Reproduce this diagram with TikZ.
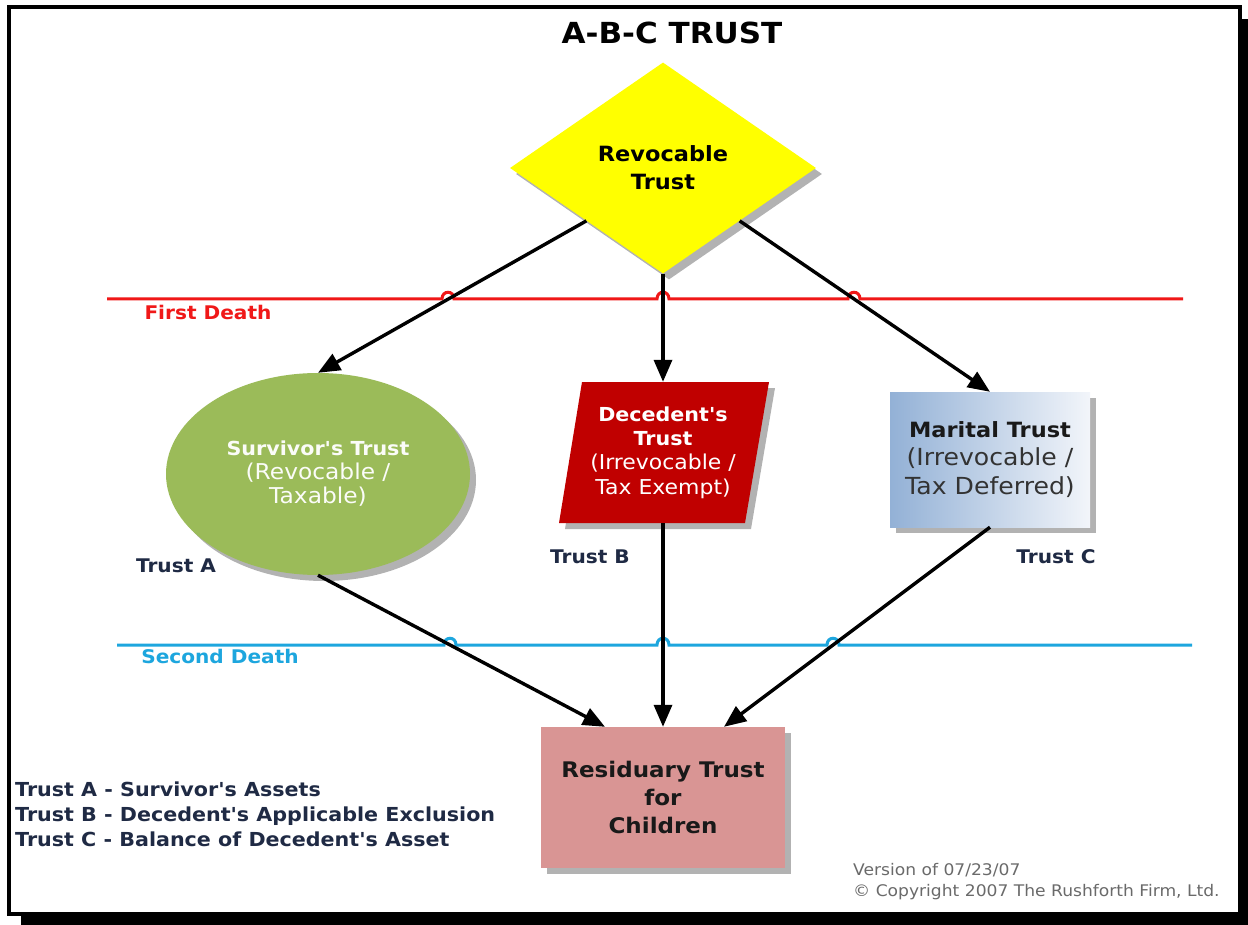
\documentclass[tikz,border=0pt]{standalone}
\usepackage{fontspec}
\setmainfont{DejaVu Sans}[FakeStretch=1.07,Ligatures=TeXOff]
\usetikzlibrary{shapes.geometric,arrows.meta,shadows}

\definecolor{revyellow}{HTML}{FFFF00}
\definecolor{survgreen}{HTML}{9BBB59}
\definecolor{decred}{HTML}{C00000}
\definecolor{marblueL}{HTML}{93B1D6}
\definecolor{marblueR}{HTML}{F2F5FA}
\definecolor{resipink}{HTML}{D99594}
\definecolor{deathred}{HTML}{F01818}
\definecolor{deathblue}{HTML}{1DA6DE}
\definecolor{lblnavy}{HTML}{1F2A44}
\definecolor{notegray}{HTML}{6A6A6A}

\tikzset{
  boxshadow/.style={drop shadow={shadow xshift=6pt,shadow yshift=-6pt,opacity=.3,fill=black}},
  link/.style={line width=3.4pt,-{Triangle[length=22pt,width=18pt]}},
  trustlbl/.style={font=\fontsize{18.8}{22}\selectfont\bfseries,text=lblnavy,inner sep=0pt},
  deathlbl/.style={font=\fontsize{18.8}{22}\selectfont\bfseries,inner sep=0pt},
}

\begin{document}
\begin{tikzpicture}[x=1pt,y=-1pt]
\useasboundingbox (0,0) rectangle (1248,925);

%Shape: Frame with shadow
\fill[black] (21,19) rectangle (1250,927);
\filldraw[fill=white,draw=black,line width=4pt] (9,7) rectangle (1240,914);

% Text Node
\node (title) at (672,33) [inner sep=0pt,font=\fontsize{29}{34}\selectfont\bfseries] {A-B-C TRUST};

%Straight Lines: First Death
\draw[deathred,line width=3pt] (107,299) -- (442,299) .. controls (442,290) and (454,290) .. (454,299)
  -- (657,299) .. controls (657,290) and (669,290) .. (669,299)
  -- (848,299) .. controls (848,290) and (860,290) .. (860,299) -- (1183,299);
%Straight Lines: Second Death
\draw[deathblue,line width=3pt] (117,645) -- (444,645) .. controls (444,636) and (456,636) .. (456,645)
  -- (657,645) .. controls (657,636) and (669,636) .. (669,645)
  -- (827,645) .. controls (827,636) and (839,636) .. (839,645) -- (1192,645);

% Text Node
\node (first) at (208,312) [deathlbl,text=deathred] {First Death};
% Text Node
\node (second) at (220,656) [deathlbl,text=deathblue] {Second Death};

%Shape: Diamond
\node (rev) at (663,168) [diamond,fill=revyellow,boxshadow,minimum width=306pt,minimum height=211pt,inner sep=0pt,align=center,font=\fontsize{21}{28}\selectfont\bfseries] {Revocable\\Trust};

%Shape: Ellipse
\node (surv) at (318,474) [ellipse,fill=survgreen,boxshadow,minimum width=304pt,minimum height=202pt,inner sep=0pt,align=center,text=white!96!survgreen,font=\fontsize{21.8}{24}\selectfont] {\textbf{\fontsize{19.3}{24}\selectfont Survivor's Trust}\\(Revocable /\\Taxable)};

%Shape: Parallelogram
\fill[decred,boxshadow] (582,382) -- (769,382) -- (745,523) -- (559,523) -- cycle;
\node (dec) at (663,452.5) [minimum width=186pt,minimum height=141pt,inner sep=0pt,align=center,text=white,font=\fontsize{20.5}{24.3}\selectfont] {\textbf{\fontsize{19.3}{24.3}\selectfont Decedent's}\\\textbf{\fontsize{19.3}{24.3}\selectfont Trust}\\(Irrevocable /\\Tax Exempt)};

%Shape: Rectangle
\node (mar) at (990,459.5) [rectangle,left color=marblueL,right color=marblueR,boxshadow,minimum width=200pt,minimum height=135pt,inner sep=0pt,align=center,text=black!80,font=\fontsize{23.5}{28.5}\selectfont] {\textbf{\fontsize{21}{28.5}\selectfont\color{black!90}Marital Trust}\\(Irrevocable /\\Tax Deferred)};

%Shape: Rectangle
\node (res) at (663,797.5) [rectangle,fill=resipink,boxshadow,minimum width=244pt,minimum height=141pt,inner sep=0pt,align=center,text=black!90,font=\fontsize{21.5}{28}\selectfont\bfseries] {Residuary Trust\\for\\Children};

% Text Node
\node (trA) at (176,566) [trustlbl] {Trust A};
% Text Node
\node (trB) at (590,557) [trustlbl] {Trust B};
% Text Node
\node (trC) at (1056,557) [trustlbl] {Trust C};

%Straight Lines
\draw[link] (rev.south west) -- (surv.north);
\draw[link] (rev.south) -- (dec.north);
\draw[link] (rev.south east) -- (mar.north);
\draw[link] (surv.south) -- ([xshift=-58pt]res.north);
\draw[link] (dec.south) -- (res.north);
\draw[link] (mar.south) -- ([xshift=61pt]res.north);

% Text Node
\node (legend) at (15,814) [anchor=west,inner sep=0pt,align=left,text=lblnavy,font=\fontsize{19.3}{25}\selectfont\bfseries] {Trust A - Survivor's Assets\\Trust B - Decedent's Applicable Exclusion\\Trust C - Balance of Decedent's Asset};
% Text Node
\node (version) at (853,881.5) [anchor=west,inner sep=0pt,align=left,text=notegray,font=\fontsize{16}{21}\selectfont] {Version of 07/23/07\\© Copyright 2007 The Rushforth Firm, Ltd.};
\end{tikzpicture}
\end{document}
